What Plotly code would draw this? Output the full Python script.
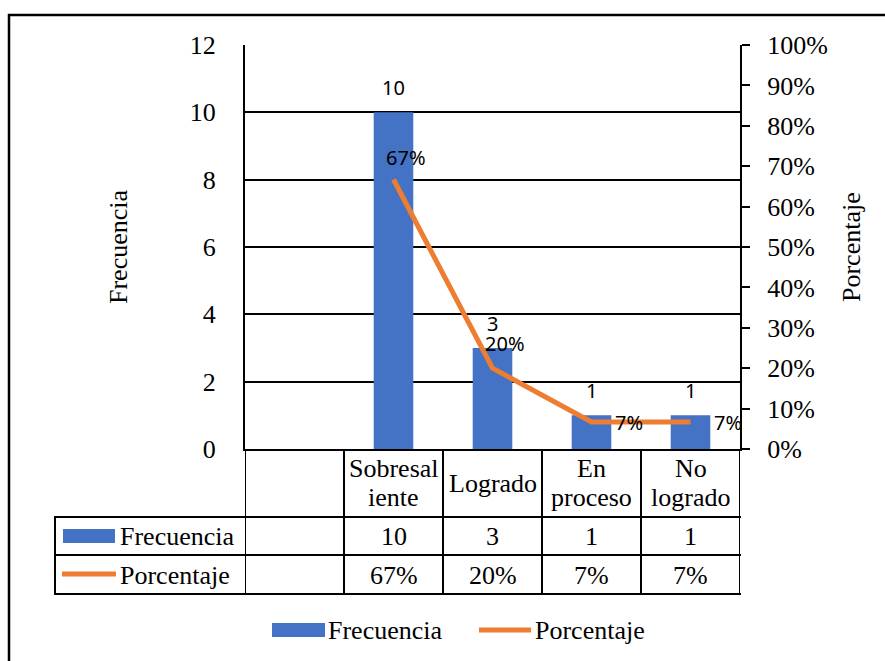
import plotly.graph_objects as go

# ---------------- data ----------------
categories = ["Sobresaliente", "Logrado", "En proceso", "No logrado"]
category_lines = [["Sobresal", "iente"], ["Logrado"], ["En", "proceso"], ["No", "logrado"]]
frecuencia = [10, 3, 1, 1]
porcentaje = [0.667, 0.20, 0.067, 0.067]
series_names = ["Frecuencia", "Porcentaje"]
left_title = "Frecuencia"
right_title = "Porcentaje"

# ---------------- helpers ----------------
W, H = 885, 661


def px(x):
    return x / W


def py(y):
    return 1 - y / H


SERIF = "Liberation Serif, Times New Roman, serif"
SANS = "Noto Sans, Carlito, Calibri, sans-serif"
BLUE = "#4472C4"
ORANGE = "#ED7D31"
FS = 26

x_pos = [i + 1 for i in range(len(categories))]  # first slot left blank
n_slots = len(categories) + 1

fig = go.Figure()
fig.add_bar(x=x_pos, y=frecuencia, width=0.4, marker_color=BLUE,
            marker_line_width=0, name=series_names[0], yaxis="y")
fig.add_scatter(x=x_pos, y=porcentaje, mode="lines",
                line=dict(color=ORANGE, width=5), name=series_names[1], yaxis="y2")

fig.update_layout(
    width=W, height=H,
    margin=dict(l=0, r=0, t=0, b=0, autoexpand=False),
    paper_bgcolor="white", plot_bgcolor="white", showlegend=False,
    xaxis=dict(domain=[px(245), px(740)], range=[-0.5, n_slots - 0.5],
               showticklabels=False, ticks="", showgrid=False, zeroline=False,
               showline=True, linecolor="black", linewidth=2),
    yaxis=dict(domain=[py(449), py(45)], range=[0, 12], dtick=2,
               showgrid=True, gridcolor="black", gridwidth=2, zeroline=False,
               showline=True, linecolor="black", linewidth=2, ticks="",
               tickfont=dict(family=SERIF, size=FS, color="black"),
               ticklabelstandoff=22),
    yaxis2=dict(range=[0, 1], dtick=0.1, tickformat=".0%", overlaying="y",
                side="right", anchor="x", showgrid=False, zeroline=False,
                showline=True, linecolor="black", linewidth=2,
                ticks="outside", ticklen=8, tickwidth=2, tickcolor="black",
                tickfont=dict(family=SERIF, size=FS, color="black"),
                ticklabelstandoff=12),
)

shapes = []
annotations = []
LINE = dict(color="black", width=2)

# ---- data table grid ----
for yy in (517, 555, 594):
    shapes.append(dict(type="line", xref="paper", yref="paper",
                       x0=px(54), x1=px(741), y0=py(yy), y1=py(yy), line=LINE))
for b in range(n_slots + 1):
    shapes.append(dict(type="line", xref="x", yref="paper",
                       x0=b - 0.5, x1=b - 0.5, y0=py(449), y1=py(594), line=LINE))
shapes.append(dict(type="line", xref="paper", yref="paper",
                   x0=px(55), x1=px(55), y0=py(517), y1=py(594), line=LINE))

# table legend keys
shapes.append(dict(type="rect", xref="paper", yref="paper",
                   x0=px(63), x1=px(115), y0=py(543), y1=py(529),
                   fillcolor=BLUE, line=dict(width=0)))
shapes.append(dict(type="line", xref="paper", yref="paper",
                   x0=px(62), x1=px(116), y0=py(574), y1=py(574),
                   line=dict(color=ORANGE, width=5)))
annotations.append(dict(xref="paper", yref="paper", x=px(118), y=py(536),
                        text=series_names[0], showarrow=False, xanchor="left", yanchor="middle",
                        font=dict(family=SERIF, size=FS, color="black")))
annotations.append(dict(xref="paper", yref="paper", x=px(118), y=py(575),
                        text=series_names[1], showarrow=False, xanchor="left", yanchor="middle",
                        font=dict(family=SERIF, size=FS, color="black")))

# table contents
for i, xp in enumerate(x_pos):
    lines = category_lines[i]
    if len(lines) == 1:
        ys = [483]
    else:
        ys = [468, 497]
    for t, yy in zip(lines, ys):
        annotations.append(dict(xref="x", yref="paper", x=xp, y=py(yy), text=t,
                                showarrow=False, xanchor="center", yanchor="middle",
                                font=dict(family=SERIF, size=FS, color="black")))
    annotations.append(dict(xref="x", yref="paper", x=xp, y=py(536),
                            text=str(frecuencia[i]), showarrow=False,
                            xanchor="center", yanchor="middle",
                            font=dict(family=SERIF, size=FS, color="black")))
    annotations.append(dict(xref="x", yref="paper", x=xp, y=py(575),
                            text=f"{porcentaje[i]:.0%}", showarrow=False,
                            xanchor="center", yanchor="middle",
                            font=dict(family=SERIF, size=FS, color="black")))

# ---- data labels ----
pct_shifts = [(12, 22), (12, 25), (37, -1), (37, -1)]
for i, xp in enumerate(x_pos):
    annotations.append(dict(xref="x", yref="y", x=xp, y=frecuencia[i],
                            text=str(frecuencia[i]), showarrow=False,
                            xanchor="center", yanchor="middle", yshift=25,
                            font=dict(family=SANS, size=20, color="black")))
    dx, dy = pct_shifts[i]
    annotations.append(dict(xref="x", yref="y2", x=xp, y=porcentaje[i],
                            text=f"{porcentaje[i]:.0%}", showarrow=False,
                            xanchor="center", yanchor="middle", xshift=dx, yshift=dy,
                            font=dict(family=SANS, size=20, color="black")))

# ---- axis titles ----
annotations.append(dict(xref="paper", yref="paper", x=px(118), y=py(247),
                        text=left_title, textangle=-90, showarrow=False,
                        xanchor="center", yanchor="middle",
                        font=dict(family=SERIF, size=FS, color="black")))
annotations.append(dict(xref="paper", yref="paper", x=px(851), y=py(247),
                        text=right_title, textangle=-90, showarrow=False,
                        xanchor="center", yanchor="middle",
                        font=dict(family=SERIF, size=FS, color="black")))

# ---- bottom legend ----
shapes.append(dict(type="rect", xref="paper", yref="paper",
                   x0=px(272), x1=px(325), y0=py(637), y1=py(623),
                   fillcolor=BLUE, line=dict(width=0)))
shapes.append(dict(type="line", xref="paper", yref="paper",
                   x0=px(479), x1=px(531), y0=py(630), y1=py(630),
                   line=dict(color=ORANGE, width=5)))
annotations.append(dict(xref="paper", yref="paper", x=px(326), y=py(630),
                        text=series_names[0], showarrow=False, xanchor="left", yanchor="middle",
                        font=dict(family=SERIF, size=FS, color="black")))
annotations.append(dict(xref="paper", yref="paper", x=px(533), y=py(630),
                        text=series_names[1], showarrow=False, xanchor="left", yanchor="middle",
                        font=dict(family=SERIF, size=FS, color="black")))

# ---- outer border ----
shapes.append(dict(type="rect", xref="paper", yref="paper",
                   x0=px(9), x1=1.05, y0=-0.05, y1=py(15),
                   line=dict(color="black", width=2.5), fillcolor="rgba(0,0,0,0)"))

fig.update_layout(shapes=shapes, annotations=annotations)
fig.write_html("out.html")
